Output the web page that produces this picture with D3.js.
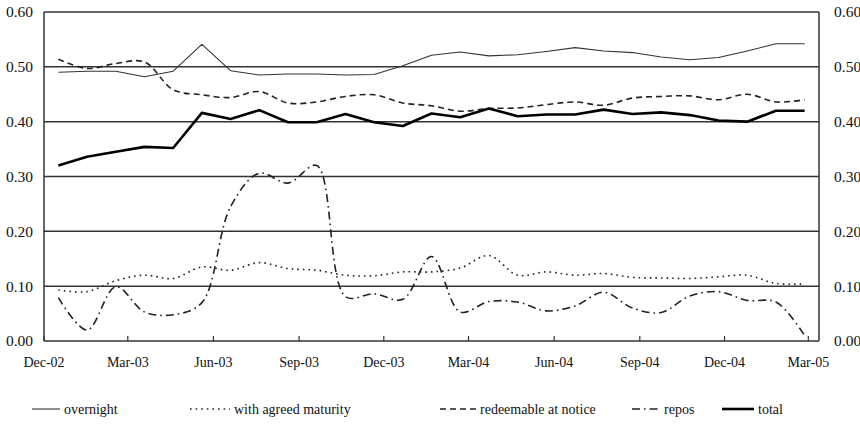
<!DOCTYPE html>
<html>
<head>
<meta charset="utf-8">
<script src="https://cdn.jsdelivr.net/npm/d3@7/dist/d3.min.js"></script>
<style>
  html, body { margin: 0; padding: 0; background: #fff; }
  svg { display: block; }
  text { font-family: "Liberation Serif", "Times New Roman", serif; fill: #111; }
</style>
</head>
<body>
<svg id="chart" width="860" height="426"></svg>
<script>
// Monthly observations, Dec-02 to Feb-05
const months = ["Dec-02","Jan-03","Feb-03","Mar-03","Apr-03","May-03","Jun-03","Jul-03","Aug-03",
  "Sep-03","Oct-03","Nov-03","Dec-03","Jan-04","Feb-04","Mar-04","Apr-04","May-04","Jun-04",
  "Jul-04","Aug-04","Sep-04","Oct-04","Nov-04","Dec-04","Jan-05","Feb-05"];

const overnight = [0.490,0.492,0.492,0.482,0.492,0.541,0.493,0.485,0.487,0.487,0.485,0.486,0.502,
  0.521,0.527,0.520,0.522,0.528,0.535,0.529,0.526,0.518,0.513,0.517,0.529,0.542,0.542];
const agreedMaturity = [0.093,0.090,0.110,0.120,0.114,0.135,0.129,0.143,0.132,0.129,0.120,0.119,0.126,
  0.126,0.133,0.156,0.120,0.126,0.120,0.123,0.116,0.115,0.114,0.117,0.120,0.105,0.104];
const redeemable = [0.514,0.497,0.506,0.509,0.458,0.449,0.444,0.455,0.434,0.436,0.446,0.449,0.434,
  0.429,0.419,0.424,0.425,0.431,0.436,0.430,0.443,0.446,0.447,0.440,0.450,0.436,0.440];
const repos = [0.079,0.020,0.099,0.053,0.048,0.070,0.245,0.306,0.288,0.320,0.081,0.086,0.076,
  0.154,0.053,0.072,0.071,0.055,0.064,0.089,0.060,0.052,0.082,0.090,0.074,0.071,0.010];
const total = [0.320,0.336,0.345,0.354,0.352,0.416,0.405,0.421,0.399,0.399,0.414,0.399,0.392,
  0.415,0.408,0.424,0.410,0.413,0.413,0.422,0.414,0.417,0.412,0.402,0.400,0.420,0.420];

const yTicks = [0, 0.1, 0.2, 0.3, 0.4, 0.5, 0.6];
const xTickLabels = ["Dec-02","Mar-03","Jun-03","Sep-03","Dec-03","Mar-04","Jun-04","Sep-04","Dec-04","Mar-05"];

const seriesNames = ["overnight", "with agreed maturity", "redeemable at notice", "repos", "total"];
const seriesValues = [overnight, agreedMaturity, redeemable, repos, total];

const styles = {
  "overnight":            { width: 1.1, dash: null,          color: "#333", smooth: false },
  "with agreed maturity": { width: 1.6, dash: "1.6,4",       color: "#222", smooth: true },
  "redeemable at notice": { width: 1.6, dash: "6,4",         color: "#222", smooth: true },
  "repos":                { width: 1.6, dash: "8,4,1.6,4",   color: "#222", smooth: true },
  "total":                { width: 2.6, dash: null,          color: "#000", smooth: false }
};

const svg = d3.select("#chart");
const plotLeft = 44, plotRight = 819, plotTop = 12, plotBottom = 341;

const y = d3.scaleLinear().domain([0, 0.6]).range([plotBottom, plotTop]);
const xBand = d3.scaleBand().domain(months).range([plotLeft, plotRight]).padding(0);
const xc = m => xBand(m) + xBand.bandwidth() / 2;

// calendar axis for the quarterly labels
const parse = d3.timeParse("%b-%y");
const xTime = d3.scaleTime()
  .domain([parse("Dec-02"), parse("Mar-05")])
  .range([plotLeft, 808.3]);

// horizontal grid lines
svg.append("g").selectAll("line").data(yTicks.filter(t => t > 0)).join("line")
  .attr("x1", plotLeft).attr("x2", plotRight)
  .attr("y1", d => y(d)).attr("y2", d => y(d))
  .attr("stroke", "#333").attr("stroke-width", 1.5);

// left / right / bottom frame
const frame = svg.append("g").attr("stroke", "#333").attr("stroke-width", 1.5);
frame.append("line").attr("x1", plotLeft).attr("x2", plotLeft).attr("y1", plotTop).attr("y2", plotBottom);
frame.append("line").attr("x1", plotRight).attr("x2", plotRight).attr("y1", plotTop).attr("y2", plotBottom);
frame.append("line").attr("x1", plotLeft).attr("x2", plotRight).attr("y1", plotBottom).attr("y2", plotBottom);

// y labels on both sides
const fmt = d3.format(".2f");
svg.append("g").selectAll("text").data(yTicks).join("text")
  .attr("x", 33).attr("y", d => y(d)).attr("dy", "0.35em")
  .attr("text-anchor", "end").attr("font-size", 15.5).text(fmt);
svg.append("g").selectAll("text").data(yTicks).join("text")
  .attr("x", 834).attr("y", d => y(d)).attr("dy", "0.35em")
  .attr("text-anchor", "start").attr("font-size", 15.5).text(fmt);

// bottom ticks and labels
const tickDates = xTickLabels.map(parse);
svg.append("g").selectAll("line").data(tickDates).join("line")
  .attr("x1", d => xTime(d)).attr("x2", d => xTime(d))
  .attr("y1", plotBottom).attr("y2", plotBottom - 5)
  .attr("stroke", "#333").attr("stroke-width", 1.2);
svg.append("g").selectAll("text").data(tickDates).join("text")
  .attr("x", d => xTime(d)).attr("y", 367)
  .attr("text-anchor", "middle").attr("font-size", 14)
  .text(d3.timeFormat("%b-%y"));

// series lines
seriesNames.forEach((name, i) => {
  const st = styles[name];
  const line = d3.line()
    .x((d, j) => xc(months[j]))
    .y(d => y(d))
    .curve(st.smooth ? d3.curveCatmullRom.alpha(0.5) : d3.curveLinear);
  svg.append("path")
    .datum(seriesValues[i])
    .attr("d", line)
    .attr("fill", "none")
    .attr("stroke", st.color)
    .attr("stroke-width", st.width)
    .attr("stroke-dasharray", st.dash)
    .attr("stroke-linejoin", "round");
});

// legend
const legendX = [32, 190, 440, 632, 722];
const legendLen = [28, 40, 36, 28, 32];
const legend = svg.append("g");
seriesNames.forEach((name, i) => {
  const st = styles[name];
  const g = legend.append("g").attr("transform", `translate(${legendX[i]},409)`);
  g.append("line").attr("x1", 0).attr("x2", legendLen[i]).attr("y1", 0).attr("y2", 0)
    .attr("stroke", st.color).attr("stroke-width", st.width)
    .attr("stroke-dasharray", st.dash);
  g.append("text").attr("x", legendLen[i] + 4).attr("y", 0).attr("dy", "0.35em")
    .attr("font-size", 14).text(name);
});
</script>
</body>
</html>
